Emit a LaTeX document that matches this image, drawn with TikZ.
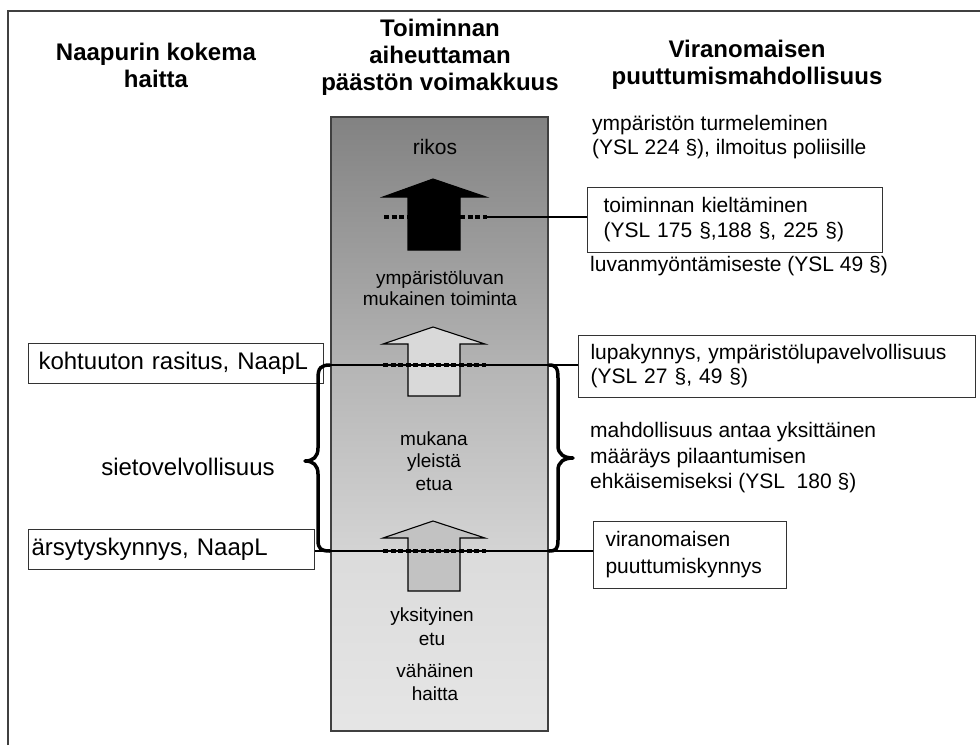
\documentclass[tikz,border=0pt]{standalone}
\usepackage{fontspec}
\setmainfont{Liberation Sans}
\begin{document}
\begin{tikzpicture}[x=1pt,y=-1pt,
  head/.style={font=\bfseries\fontsize{24}{27}\selectfont, align=center, inner sep=0pt},
  body/.style={font=\fontsize{21}{24}\selectfont, align=left, inner sep=0pt},
  lbody/.style={font=\fontsize{24}{27}\selectfont, align=left, inner sep=0pt},
  ctext/.style={font=\fontsize{19}{21}\selectfont, align=center, inner sep=0pt},
  rbox/.style={draw=black!80, line width=1.1pt, fill=white, font=\fontsize{21}{25}\selectfont, align=left, inner ysep=0pt, anchor=north west},
  lbox/.style={draw=black!80, line width=1.1pt, fill=white, font=\fontsize{24}{27}\selectfont, align=left, inner ysep=0pt, anchor=north west},
  arrowshape/.style={draw=black, line width=1.1pt},
  dashline/.style={line width=3.5pt, dash pattern=on 5pt off 2.6pt, black},
  conn/.style={line width=1.1pt, black},
  bracestyle/.style={line width=3.5pt, black, line cap=round, line join=round}]
\useasboundingbox (0,0) rectangle (980,745);
\fill[white] (0,0) rectangle (980,745);
% outer frame (left and top edges)
\draw[line width=2pt, black!75] (8,745) -- (8,11) -- (980,11);

% headers
\node[head] (h1) at (156,65) {Naapurin kokema\\haitta};
\node[head] (h2) at (440,57) {Toiminnan\\aiheuttaman\\päästön voimakkuus};
\node[head] (h3) at (747,65) {Viranomaisen\\puuttumismahdollisuus};

% central column with gradient
\shade[top color=black!49, bottom color=black!30] (331,117) rectangle (548,365);
\shade[top color=black!29, bottom color=black!17] (331,365) rectangle (548,551);
\shade[top color=black!14, bottom color=black!10] (331,551) rectangle (548,731);
\node[draw=black!75, line width=1.1pt, minimum width=217pt, minimum height=614pt, inner sep=0pt] (col) at (439.5,424) {};

% arrows
\draw[arrowshape, fill=black] (433,179) -- (486,197) -- (460,197) -- (460,250) -- (408,250) -- (408,197) -- (383,197) -- cycle;
\draw[arrowshape, fill=black!15] (433,327) -- (485,344) -- (460,344) -- (460,396) -- (408,396) -- (408,344) -- (383,344) -- cycle;
\draw[arrowshape, fill=black!24] (433,521) -- (485,538) -- (460,538) -- (460,591) -- (408,591) -- (408,538) -- (383,538) -- cycle;

% center texts
\node[ctext, font=\fontsize{21}{24}\selectfont] (rikos) at (435,147) {rikos};
\node[ctext] (luvan) at (440,288) {ympäristöluvan\\mukainen toiminta};
\node[ctext, font=\fontsize{19}{22.5}\selectfont] (yleinen) at (434,461) {mukana\\yleistä\\etua};
\node[ctext, font=\fontsize{19}{24}\selectfont] (yksit) at (432,627) {yksityinen\\etu};
\node[ctext, font=\fontsize{19}{23}\selectfont] (vahainen) at (435,682) {vähäinen\\haitta};

% right texts and boxes
\node[body, anchor=west] (turm) at (592,137) {ympäristön turmeleminen\\(YSL 224 §), ilmoitus poliisille};
\node[rbox, minimum width=295pt, minimum height=65pt, inner xsep=16pt, text width=263pt] (b1) at (587,187) {toiminnan kieltäminen\\(YSL 175 §,188 §, 225 §)};
\node[body, anchor=west] (este) at (590,266) {luvanmyöntämiseste (YSL 49 §)};
\node[rbox, minimum width=397pt, minimum height=62pt, inner xsep=12pt, text width=373pt, font=\fontsize{21}{24}\selectfont] (b2) at (578,335) {lupakynnys, ympäristölupavelvollisuus\\(YSL 27 §, 49 §)};
\node[body, anchor=west, font=\fontsize{21}{25.5}\selectfont] (maar) at (590,458) {mahdollisuus antaa yksittäinen\\määräys pilaantumisen\\ehkäisemiseksi (YSL\ \ 180 §)};
\node[rbox, minimum width=193pt, minimum height=67pt, inner xsep=12pt, text width=169pt, font=\fontsize{21}{27}\selectfont] (b3) at (593,521) {viranomaisen\\puuttumiskynnys};

% left boxes and text
\node[lbox, minimum width=295pt, minimum height=40pt, inner xsep=10pt, text width=275pt] (b4) at (28,343) {kohtuuton rasitus, NaapL};
\node[lbox, minimum width=286pt, minimum height=40pt, inner xsep=3pt, text width=280pt] (b5) at (28,529) {ärsytyskynnys, NaapL};
\node[lbody, anchor=center] (siet) at (188,467) {sietovelvollisuus};

% level coordinates
\coordinate (L0) at (440,217);
\coordinate (L1) at (440,365);
\coordinate (L2) at (440,551);
\coordinate (d0l) at (384,217);
\coordinate (d0r) at (487,217);
\coordinate (d1l) at (383,365);
\coordinate (d1r) at (486,365);
\coordinate (d2l) at (383,551);
\coordinate (d2r) at (486,551);

% connectors
\draw[conn] (d0r) -- (L0 -| b1.west);
\draw[conn] (L1 -| b4.east) -- (L1 -| b2.west);
\draw[conn] (L2 -| b5.east) -- (L2 -| b3.west);

% dashed threshold marks
\draw[dashline] (d0l) -- (d0r);
\draw[dashline] (d1l) -- (d1r);
\draw[dashline] (d2l) -- (d2r);

% braces
\draw[bracestyle] (330,365) .. controls (321,365) and (318,368) .. (318,378) -- (318,448) .. controls (318,457) and (313,461) .. (305,461) .. controls (313,461) and (318,465) .. (318,474) -- (318,540) .. controls (318,549) and (321,551) .. (330,551);
\draw[bracestyle] (549,365) .. controls (556,365) and (558,368) .. (558,378) -- (558,446) .. controls (558,454) and (564,458) .. (573,458) .. controls (564,458) and (558,462) .. (558,470) -- (558,540) .. controls (558,549) and (556,551) .. (549,551);
\end{tikzpicture}
\end{document}
